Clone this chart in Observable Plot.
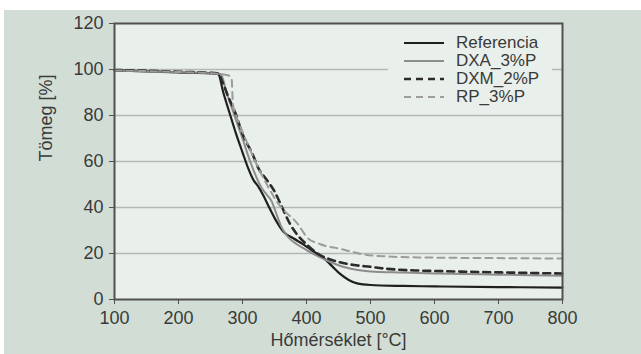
<!DOCTYPE html>
<html>
<head>
<meta charset="utf-8">
<script src="https://cdn.jsdelivr.net/npm/d3@7"></script>
<script src="https://cdn.jsdelivr.net/npm/@observablehq/plot@0.6"></script>
<style>
  html, body { margin: 0; padding: 0; background: #ffffff; }
  #wrap { position: absolute; left: 4px; top: 10px; width: 637px; height: 344px; background: #d2ded5; overflow: hidden; }
  #legend { position: absolute; left: 384px; top: 22px; width: 164px; height: 74px; background: #e9efea;
            font-family: "Liberation Sans", Arial, sans-serif; font-size: 17px; color: #3a3a3a; }
  #legend .row { position: absolute; left: 0; height: 17px; line-height: 17px; white-space: nowrap; }
  #legend svg { position: absolute; left: 15px; top: 0; }
  #legend span { position: absolute; left: 68px; top: 0; height: 17px; line-height: 17px; }
</style>
</head>
<body>
<div id="wrap"><div id="chart"></div><div id="legend"></div></div>
<script>
// ---- data ----
const seriesNames = ["Referencia", "DXA_3%P", "DXM_2%P", "RP_3%P"];

const refT = [100,150,200,250,262,270,281,290,300,309,317,325,333,340,350,364,380,395,410,427,440,453,466,479,500,550,600,700,800];
const refM = [99.6,99.2,98.7,98.3,98.0,90,80,72,64,57,52,49,45,41,35.5,29.5,26.5,24,21,18,14.5,11,8.5,7,6.3,5.9,5.7,5.4,5.2];

const dxaT = [100,150,200,250,266,275,285,300,312,322,330,338,345,352,360,370,385,400,420,440,460,480,500,550,600,700,800];
const dxaM = [99.6,99.2,98.8,98.5,98.0,90,82,70,60,53,48.5,45.5,43,38,32,27.5,24,21.5,18.5,16,14,12.8,12.2,11.7,11.3,10.8,10.3];

const dxmT = [100,150,200,250,262,268,278,289,300,316,325,338,350,362,374,386,400,417,442,474,500,520,573,600,700,800];
const dxmM = [99.8,99.5,99.0,98.6,98.3,95,88,81,72,63,57,52,47,40,33,28,24,20,17,15,14.2,13.5,12.6,12.4,11.8,11.3];

const rpT = [100,150,200,250,277,283,285,290,300,320,340,355,364,386,401,422,453,489,527,573,600,700,800];
const rpM = [99.6,99.3,98.9,98.4,97.5,96,85,80,73,60,49,42,39,33,27,24,22,19.6,18.7,18.3,18.2,18.0,17.8];

const xTicks = [100,200,300,400,500,600,700,800];
const yTicks = [0,20,40,60,80,100,120];
const gridY = [20,40,60,80,100];

const xLabel = "Hőmérséklet [°C]";
const yLabel = "Tömeg [%]";

// ---- styles ----
const styles = [
  {stroke: "#1f1f1f", strokeWidth: 2.2, dash: null},
  {stroke: "#8c8c8c", strokeWidth: 2, dash: null},
  {stroke: "#2b2b2b", strokeWidth: 2.6, dash: "7,5"},
  {stroke: "#9c9c9c", strokeWidth: 2, dash: "7,5"}
];

const toRows = (T, M) => T.map((t, i) => ({t, m: M[i]}));
const allData = [toRows(refT, refM), toRows(dxaT, dxaM), toRows(dxmT, dxmM), toRows(rpT, rpM)];

const lineMarks = allData.map((d, i) => Plot.line(d, {
  x: "t", y: "m", curve: "monotone-x",
  stroke: styles[i].stroke, strokeWidth: styles[i].strokeWidth,
  strokeDasharray: styles[i].dash, strokeLinejoin: "round"
}));

const chart = Plot.plot({
  width: 637, height: 344,
  marginLeft: 110, marginRight: 79, marginTop: 13, marginBottom: 55,
  style: {background: "transparent", fontFamily: "'Liberation Sans', Arial, sans-serif", fontSize: "18px", color: "#3a3a3a"},
  x: {domain: [100, 800]},
  y: {domain: [0, 120]},
  marks: [
    Plot.frame({fill: "#e9efea", stroke: "none"}),
    Plot.ruleY(gridY, {stroke: "#b3b9b4", strokeWidth: 1.5}),
    ...lineMarks,
    Plot.frame({stroke: "#505050", strokeWidth: 2}),
    Plot.axisX({ticks: xTicks, tickSize: 5, tickPadding: 7, tickFormat: d => String(d), label: null, stroke: "#505050", fontSize: 18}),
    Plot.axisY({ticks: yTicks, tickSize: 5, tickPadding: 6, tickFormat: d => String(d), label: null, stroke: "#505050", fontSize: 18}),
    Plot.text([xLabel], {frameAnchor: "bottom", dy: 41, lineAnchor: "middle", fontSize: 18, fill: "#3a3a3a"}),
    Plot.text([yLabel], {frameAnchor: "left", dx: -68, rotate: -90, lineAnchor: "middle", fontSize: 18, fill: "#3a3a3a"})
  ]
});
document.getElementById("chart").appendChild(chart);

// ---- legend ----
const legend = document.getElementById("legend");
seriesNames.forEach((name, i) => {
  const row = document.createElement("div");
  row.className = "row";
  row.style.top = (i * 18 + 2) + "px";
  row.style.width = "164px";
  const s = styles[i];
  row.innerHTML = `<svg width="42" height="17"><line x1="1" x2="41" y1="9" y2="9" stroke="${s.stroke}" stroke-width="${s.strokeWidth}" ${s.dash ? `stroke-dasharray="${s.dash}"` : ""}/></svg><span>${name}</span>`;
  legend.appendChild(row);
});
</script>
</body>
</html>
